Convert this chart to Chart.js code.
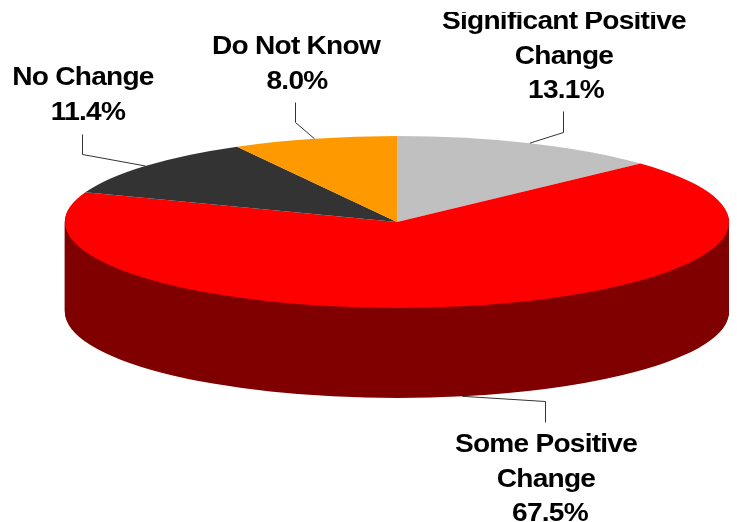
<!DOCTYPE html>
<html>
<head>
<meta charset="utf-8">
<title>Pie</title>
<script src="https://cdn.jsdelivr.net/npm/chart.js@4/dist/chart.umd.min.js"></script>
<style>
  html, body { margin: 0; padding: 0; background: #fff; }
  canvas { display: block; }
</style>
</head>
<body>
<canvas id="pie" width="737" height="522"></canvas>
<script>
const categories = [
  ["Significant Positive", "Change"],
  ["Some Positive", "Change"],
  ["No Change"],
  ["Do Not Know"],
];
const shares = [13.1, 67.5, 11.4, 8.0];
const sliceColors = ["#c0c0c0", "#ff0000", "#333333", "#ff9900"];

// the pie is squashed into an ellipse and pushed down to fake the 3D look
const pieCenter = { x: 397, y: 222 };
const pieRadius = { x: 332, y: 86 };
const pieDepth = 90;
const sideColor = "#800000";

// center x of each text line and first baseline, then the leader elbow and end
const labelCenters = [[564, 564, 566], [546, 546, 550], [83, 88], [296, 297]];
const labelBaselines = [29, 452, 85, 54];
const labelSpacing = 34.5;
const leaderElbows = [[563, 132, 111], [545, 401, 422], [82, 154, 134], [295, 122, 102]];
const textStretch = 1.08;
const textTop = 12;

function applyPieTransform(ctx, arc, dy) {
  ctx.translate(pieCenter.x, pieCenter.y + dy);
  ctx.scale(pieRadius.x / arc.outerRadius, pieRadius.y / arc.outerRadius);
  ctx.translate(-arc.x, -arc.y);
}

function rimPoint(arc, index) {
  const mid = (arc.startAngle + arc.endAngle) / 2;
  const front = index === 1 ? pieDepth : 0;
  return {
    x: pieCenter.x + pieRadius.x * Math.cos(mid),
    y: pieCenter.y + pieRadius.y * Math.sin(mid) + front,
  };
}

const squashPlugin = {
  id: "squash",
  beforeDatasetsDraw(chart) {
    const ctx = chart.ctx;
    const arcs = chart.getDatasetMeta(0).data;
    const frontArc = arcs[shares.indexOf(Math.max(...shares))];
    const side = Object.create(frontArc);
    side.options = { ...frontArc.options, backgroundColor: sideColor };
    for (let dy = pieDepth; dy > 0; dy--) {
      ctx.save();
      applyPieTransform(ctx, frontArc, dy);
      side.draw(ctx);
      ctx.restore();
    }
    ctx.save();
    applyPieTransform(ctx, frontArc, 0);
  },
  afterDatasetsDraw(chart) {
    const ctx = chart.ctx;
    ctx.restore();

    const arcs = chart.getDatasetMeta(0).data;
    ctx.strokeStyle = "#333333";
    ctx.lineWidth = 1;
    arcs.forEach((arc, i) => {
      const start = rimPoint(arc, i);
      const [elbowX, elbowY, endY] = leaderElbows[i];
      ctx.beginPath();
      ctx.moveTo(start.x, start.y);
      ctx.lineTo(elbowX + 0.5, elbowY + 0.5);
      ctx.lineTo(elbowX + 0.5, endY + 0.5);
      ctx.stroke();
    });

    ctx.save();
    ctx.beginPath();
    ctx.rect(0, textTop, chart.width, chart.height - textTop);
    ctx.clip();
    ctx.fillStyle = "#000000";
    ctx.font = 'bold 26px "Liberation Sans"';
    ctx.letterSpacing = "-0.7px";
    ctx.textAlign = "center";
    ctx.textBaseline = "alphabetic";
    categories.forEach((lines, i) => {
      const all = [...lines, `${shares[i].toFixed(1)}%`];
      all.forEach((line, j) => {
        ctx.save();
        ctx.translate(labelCenters[i][j], labelBaselines[i] + j * labelSpacing);
        ctx.scale(textStretch, 1);
        ctx.fillText(line, 0, 0);
        ctx.restore();
      });
    });
    ctx.restore();
  },
};

new Chart(document.getElementById("pie"), {
  type: "pie",
  data: {
    labels: categories.map((lines) => lines.join(" ")),
    datasets: [
      {
        data: shares,
        backgroundColor: sliceColors,
        borderWidth: 0,
        clip: false,
      },
    ],
  },
  options: {
    responsive: false,
    animation: false,
    plugins: {
      legend: { display: false },
      tooltip: { enabled: false },
    },
  },
  plugins: [squashPlugin],
});
</script>
</body>
</html>
